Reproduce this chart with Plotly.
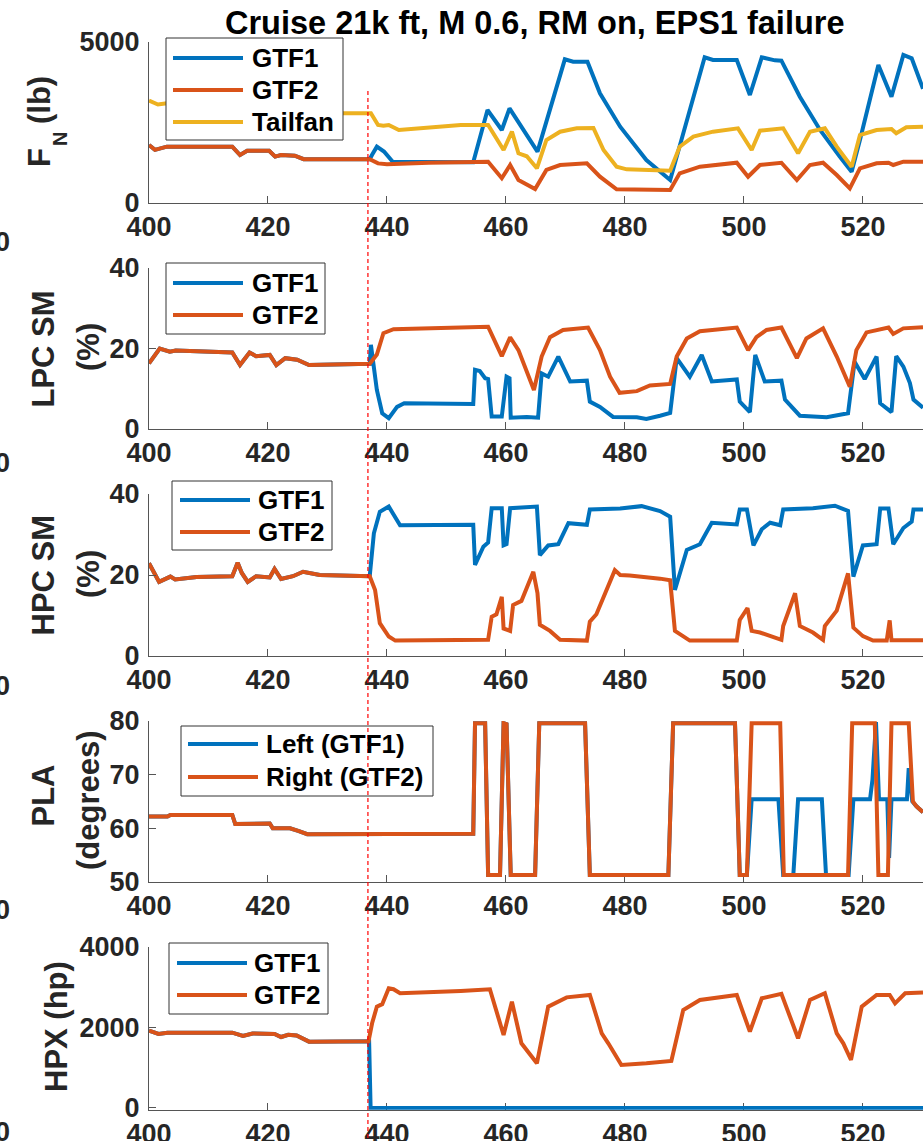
import plotly.graph_objects as go

# ------------------------------------------------------------------ data
t_start, t_end = 400, 530.1
failure_time = 436.8
x_ticks = [400, 420, 440, 460, 480, 500, 520]
title_text = "Cruise 21k ft, M 0.6, RM on, EPS1 failure"

# Panel 1 : net thrust F_N (lb)
fn_gtf1_t = [400, 401, 403, 414, 415.3, 416.5, 420.2, 421.2, 422.2, 424.5, 426, 437.1, 437.5, 438.3, 439.5,
             441, 447, 454.5, 456.9, 459.3, 460.6, 465.3, 469.9, 471.3, 473.7, 475.8, 479.2, 483.6, 487.6,
             489.2, 493.4, 494.8, 498.8, 501, 503, 505.2, 506.3, 509.4, 512.8, 516.1, 518.1, 519.5, 522.6,
             524.8, 526.8, 528.2, 530.1]
fn_gtf1 = [1800, 1650, 1750, 1750, 1490, 1620, 1620, 1440, 1490, 1470, 1360, 1360, 1500, 1750, 1600,
           1270, 1270, 1263, 2888, 2267, 2940, 1594, 4462, 4388, 4388, 3406, 2370, 1335, 714,
           1749, 4524, 4441, 4441, 3354, 4524, 4430, 4420, 3302, 2267, 1439, 972, 1957, 4286,
           3302, 4596, 4492, 3550]
fn_gtf2_t = [400, 401, 403, 414, 415.3, 416.5, 420.2, 421.2, 422.2, 424.5, 426, 437.1, 438.5, 440, 447, 455,
             457, 459.3, 460.7, 462.1, 464.9, 466.8, 469.1, 473.6, 475.8, 478.6, 487.6, 489.2, 492.6, 498.8,
             500.7, 502.7, 506.3, 508.9, 511.1, 513.3, 515.6, 517.8, 519.5, 522.3, 524.3, 525.1, 526.8, 530.1]
fn_gtf2 = [1800, 1650, 1750, 1750, 1490, 1620, 1620, 1440, 1490, 1470, 1360, 1360, 1230, 1200, 1250, 1280,
           1280, 770, 1180, 714, 435, 1025, 1180, 1232, 817, 425, 404, 921, 1127, 1252,
           817, 1180, 1250, 714, 1180, 1250, 870, 456, 1077, 1232, 1250, 1180, 1283, 1283]
fn_tail_t = [400, 401.5, 403, 414, 415.3, 420.2, 421.2, 426, 437.3, 438.5, 439.4, 440.3, 442, 445.6, 452.4,
             457, 459.6, 461, 462.1, 463.5, 465.2, 466.8, 469.1, 471.9, 474.7, 476.4, 478.6, 480.3, 487.6,
             489.2, 491.5, 494.8, 499, 501.3, 502.7, 506.6, 509.1, 511.1, 513.6, 515.6, 518.1, 519.5, 522.3,
             524.8, 525.6, 527.3, 530.1]
fn_tail = [3180, 3060, 3100, 3080, 2950, 2950, 2880, 2790, 2790, 2422, 2400, 2422, 2267, 2330, 2422,
           2422, 1646, 2215, 1543, 1450, 1077, 1957, 2215, 2319, 2330, 1646, 1127, 1046, 1004,
           1749, 2060, 2215, 2319, 1646, 2246, 2319, 1543, 2215, 2319, 1749, 1127, 2112, 2267,
           2300, 2164, 2350, 2370]

# Panel 2 : LPC stall margin (%)
lpc_gtf1_t = [400, 401.8, 403.5, 404.5, 414, 415.3, 416.9, 418, 420.3, 421.4, 422.9, 424.9, 426.9, 437.1,
              437.3, 438.3, 439.2, 440.3, 441.7, 442.9, 454.5, 454.8, 455.6, 456.5, 457, 457.6, 459.3, 460.1,
              460.6, 460.8, 463.5, 465.4, 466, 467.1, 468.8, 470.8, 473.6, 474.1, 475.8, 478, 482, 483.6,
              485.9, 487.6, 488.7, 490.9, 492.9, 494.6, 498.8, 499.3, 501, 501.9, 503.5, 506.3, 506.9, 509.4,
              513.9, 517.5, 518.6, 520.3, 522.3, 522.9, 524.8, 525.6, 526.8, 527.9, 528.5, 530.1]
lpc_gtf1 = [16.3, 20.0, 19.2, 19.5, 19.0, 15.9, 19.0, 18.1, 18.4, 15.9, 17.6, 17.2, 15.9, 16.2,
            20.9, 9.7, 3.9, 2.7, 5.5, 6.4, 6.2, 14.7, 14.4, 12.6, 12.4, 3.1, 3.1, 13.0,
            12.6, 2.8, 3.0, 2.8, 13.8, 13.0, 18.0, 11.8, 12.0, 6.8, 5.5, 3.0, 2.9, 2.5,
            3.3, 4.0, 17.6, 13.0, 18.4, 11.8, 12.3, 6.8, 4.2, 18.4, 11.8, 12.0, 7.3, 3.3,
            2.9, 3.9, 16.7, 12.4, 18.0, 6.4, 4.2, 18.1, 15.5, 11.4, 7.3, 5.3]
lpc_gtf2_t = [400, 401.8, 403.5, 404.5, 414, 415.3, 416.9, 418, 420.3, 421.4, 422.9, 424.9, 426.9, 437.1,
              438.3, 439.4, 441.1, 452.4, 457, 459.3, 460.7, 462.1, 464.7, 466, 467.4, 469.6, 473.8, 475.8,
              477.5, 479.1, 482, 484.2, 487.6, 488.7, 490.4, 492.6, 498.8, 500.7, 502.1, 503.8, 506.3, 508.9,
              510.5, 513.3, 515.6, 517.8, 518.9, 520.6, 524.3, 525.1, 526.8, 530.1]
lpc_gtf2 = [16.3, 20.0, 19.2, 19.5, 19.0, 15.9, 19.0, 18.1, 18.4, 15.9, 17.6, 17.2, 15.9, 16.2,
            18.5, 23.8, 24.8, 25.1, 25.4, 18.1, 22.8, 19.6, 9.7, 18.0, 22.8, 24.6, 25.2, 19.6,
            13.0, 9.0, 9.4, 10.8, 11.2, 18.0, 22.5, 24.3, 25.2, 19.6, 22.8, 24.6, 25.2, 17.6,
            22.5, 25.0, 18.0, 10.5, 19.6, 24.0, 25.2, 23.6, 25.0, 25.3]

# Panel 3 : HPC stall margin (%)
hpc_gtf1_t = [400, 401.7, 403.6, 404.4, 408, 414, 414.9, 415.6, 416.6, 418, 420.3, 421.1, 422.2, 424.2,
              425.9, 428.7, 437.1, 437.8, 438.8, 440.3, 442.2, 454.5, 454.8, 456.2, 457, 457.6, 459.3, 459.6,
              460.1, 460.7, 465.2, 465.7, 467.1, 468.8, 470.5, 473.6, 474.1, 479.2, 482.8, 485.9, 487.6, 488.4,
              490.4, 492.6, 494.6, 498.8, 499.3, 500.5, 501.6, 503, 504.4, 506.1, 506.6, 511.6, 515.3, 517.5,
              518.4, 520, 522.3, 522.9, 524.3, 525.1, 526.8, 528.2, 528.5, 530.1]
hpc_gtf1 = [22.9, 18.3, 19.6, 18.9, 19.5, 19.7, 23.0, 20.5, 18.3, 19.7, 19.4, 21.5, 19.0, 19.7,
            20.8, 20.0, 19.7, 30.3, 35.6, 36.9, 32.3, 32.4, 22.5, 27.0, 28.0, 36.5, 36.5, 27.3,
            27.6, 36.5, 36.9, 24.9, 27.3, 27.6, 32.8, 32.4, 36.2, 36.4, 37.0, 35.8, 34.4, 16.3,
            26.2, 27.6, 32.9, 32.5, 36.2, 36.2, 27.3, 31.3, 32.9, 32.3, 36.2, 36.5, 37.1, 35.8,
            19.6, 27.3, 27.6, 36.4, 36.4, 27.6, 31.6, 33.2, 36.2, 36.2]
hpc_gtf2_t = [400, 401.7, 403.6, 404.4, 408, 414, 414.9, 415.6, 416.6, 418, 420.3, 421.1, 422.2, 424.2,
              425.9, 428.7, 437.1, 438, 438.8, 440.3, 441.4, 452.4, 457, 457.6, 458.4, 459.3, 459.6, 460.7,
              461.2, 462.6, 464.6, 465.3, 465.7, 467.4, 469.1, 473.6, 474.1, 475.2, 478.3, 479.2, 480.8, 485.9,
              487.6, 488.4, 490.9, 498.8, 499.3, 500.6, 501.3, 502.7, 506.3, 506.6, 508.6, 509.4, 511.6, 513.3,
              513.6, 515.6, 517.5, 518.4, 520, 521.7, 524, 524.5, 524.8, 530.1]
hpc_gtf2 = [22.9, 18.3, 19.6, 18.9, 19.5, 19.7, 23.0, 20.5, 18.3, 19.7, 19.4, 21.5, 19.0, 19.7,
            20.8, 20.0, 19.7, 16.3, 8.1, 4.8, 3.8, 4.0, 4.0, 9.7, 10.3, 14.6, 6.8, 6.2,
            12.6, 13.6, 20.8, 15.5, 7.7, 6.2, 4.0, 3.8, 8.5, 10.3, 21.2, 20.0, 19.9, 19.1,
            18.7, 6.2, 3.8, 3.8, 8.9, 11.8, 6.2, 5.8, 4.0, 7.4, 15.5, 7.4, 5.8, 4.0,
            7.4, 11.2, 20.4, 7.0, 4.9, 3.8, 3.8, 8.8, 3.9, 3.9]

# Panel 4 : power lever angle (degrees)
pla_left_t = [400, 403.1, 403.6, 414, 414.5, 420.3, 420.8, 423.7, 425.2, 426.6, 454.5, 454.8, 456.5, 457,
              459, 459.6, 460.1, 460.8, 464.9, 465.6, 473.3, 474.1, 487.3, 488.1, 498.5, 499.3, 500.5,
              501.3, 505.8, 506.6, 508.3, 509.1, 513.1, 513.8, 517.6, 518.4, 521.2, 521.6, 522.2, 522.7,
              524.1, 524.4, 524.8, 527.4, 527.7, 528.3, 529, 530.1]
pla_left = [62.2, 62.2, 62.5, 62.5, 60.8, 60.9, 60.0, 60.0, 59.5, 58.9, 59.0, 79.6, 79.6, 51.3,
            51.3, 79.6, 79.4, 51.3, 51.3, 79.6, 79.6, 51.3, 51.3, 79.6, 79.6, 51.3, 51.3,
            65.4, 65.4, 51.3, 51.3, 65.4, 65.4, 51.3, 51.3, 65.4, 65.4, 69.0, 79.8, 65.4,
            65.4, 54.5, 65.4, 65.4, 71.2, 65.0, 64.1, 63.0]
pla_right_t = [400, 403.1, 403.6, 414, 414.5, 420.3, 420.8, 423.7, 425.2, 426.6, 454.5, 454.8, 456.5, 457,
               459, 459.6, 460.1, 460.8, 464.9, 465.6, 473.3, 474.1, 487.3, 488.1, 498.5, 499.3, 500.5,
               501.3, 506.1, 506.7, 517.5, 518.2, 522, 522.6, 524.2, 524.8, 527.7, 528.4, 529, 530.1]
pla_right = [62.2, 62.2, 62.5, 62.5, 60.8, 60.9, 60.0, 60.0, 59.5, 58.9, 59.0, 79.6, 79.6, 51.3,
             51.3, 79.6, 79.4, 51.3, 51.3, 79.6, 79.6, 51.3, 51.3, 79.6, 79.6, 51.3, 51.3,
             79.6, 79.6, 51.3, 51.3, 79.6, 79.6, 51.3, 51.3, 79.6, 79.6, 65.0, 64.1, 63.0]

# Panel 5 : HP extraction (hp)
hpx_gtf1_t = [400, 401.6, 403.1, 414, 415.8, 417.4, 421.1, 422.2, 423.4, 424.8, 426.9, 437.0, 437.25, 530.1]
hpx_gtf1 = [1921, 1839, 1871, 1871, 1789, 1850, 1839, 1764, 1820, 1800, 1648, 1656, 0, 0]
hpx_gtf2_t = [400, 401.6, 403.1, 414, 415.8, 417.4, 421.1, 422.2, 423.4, 424.8, 426.9, 436.9, 437.5, 438.3,
              439.2, 440.3, 441.1, 442.2, 452.4, 457.3, 459.6, 461, 462.6, 464, 465.2, 467.1, 470.2, 474.1,
              476.1, 477.2, 479.4, 483.6, 487.8, 489.8, 492.6, 498.8, 501, 503, 506.3, 509.1, 511.1, 513.6,
              515.6, 516.7, 518, 519.8, 522.3, 524.5, 525.4, 527.1, 530.1]
hpx_gtf2 = [1921, 1839, 1871, 1871, 1789, 1850, 1839, 1764, 1820, 1800, 1648, 1656, 2104, 2517,
            2580, 2974, 2950, 2850, 2908, 2949, 1814, 2642, 1607, 1359, 1110, 2517, 2749, 2808,
            1855, 1607, 1068, 1110, 1168, 2435, 2684, 2808, 1896, 2725, 2835, 1731, 2684, 2850,
            1855, 1607, 1193, 2517, 2808, 2808, 2600, 2850, 2870]

series_names = [["GTF1", "GTF2", "Tailfan"], ["GTF1", "GTF2"], ["GTF1", "GTF2"],
                ["Left (GTF1)", "Right (GTF2)"], ["GTF1", "GTF2"]]
y_ranges = [[0, 5000], [0, 40], [0, 40], [50, 80], [-45, 4000]]
y_ticks = [[0, 5000], [0, 20, 40], [0, 20, 40], [50, 60, 70, 80], [0, 2000, 4000]]

# ------------------------------------------------------------------ styling / layout
BLUE, ORANGE, YELLOW = "#0072BD", "#D95319", "#EDB120"
AXC = "#555555"
TXT = "#262626"
FONT = "Liberation Sans, Arial, sans-serif"
W, H, ML = 923, 1141, 149
LW = 4


def px2x(px):
    return (px - ML) / (W - ML)


def py2y(py):
    return 1 - py / H


panel_px = [(203, 42), (429, 268), (656, 494), (882, 721), (1109.8, 947)]

panels = [
    [(fn_gtf1_t, fn_gtf1, BLUE), (fn_gtf2_t, fn_gtf2, ORANGE), (fn_tail_t, fn_tail, YELLOW)],
    [(lpc_gtf1_t, lpc_gtf1, BLUE), (lpc_gtf2_t, lpc_gtf2, ORANGE)],
    [(hpc_gtf1_t, hpc_gtf1, BLUE), (hpc_gtf2_t, hpc_gtf2, ORANGE)],
    [(pla_left_t, pla_left, BLUE), (pla_right_t, pla_right, ORANGE)],
    [(hpx_gtf1_t, hpx_gtf1, BLUE), (hpx_gtf2_t, hpx_gtf2, ORANGE)],
]

fig = go.Figure()
for i, series in enumerate(panels):
    sfx = "" if i == 0 else str(i + 1)
    for (t, v, c), name in zip(series, series_names[i]):
        fig.add_trace(go.Scatter(x=t, y=v, mode="lines", name=name,
                                 line=dict(color=c, width=LW),
                                 xaxis="x" + sfx, yaxis="y" + sfx,
                                 showlegend=False, hoverinfo="skip"))

tickfont = dict(family=FONT, size=27, color=TXT, weight="bold")
layout = dict(width=W, height=H, margin=dict(l=ML, r=0, t=0, b=0, pad=0),
              template="none", paper_bgcolor="white", plot_bgcolor="rgba(0,0,0,0)",
              showlegend=False)
for i in range(5):
    sfx = "" if i == 0 else str(i + 1)
    bot, top = panel_px[i]
    layout["xaxis" + sfx] = dict(domain=[0, 1], range=[t_start, t_end], anchor="y" + sfx,
                                 tickvals=x_ticks, ticks="inside", ticklen=7, tickwidth=1,
                                 tickcolor=AXC, showline=True, linecolor=AXC, linewidth=1,
                                 showgrid=False, zeroline=False, tickfont=tickfont,
                                 ticklabelstandoff=0, automargin=False, fixedrange=True,
                                 layer="below traces")
    layout["yaxis" + sfx] = dict(domain=[py2y(bot), py2y(top)], range=y_ranges[i], anchor="x" + sfx,
                                 tickvals=y_ticks[i], ticks="inside", ticklen=7, tickwidth=1,
                                 tickcolor=AXC, showline=True, linecolor=AXC, linewidth=1,
                                 showgrid=False, zeroline=False, tickfont=tickfont,
                                 ticklabelstandoff=3, automargin=False, fixedrange=True)
fig.update_layout(**layout)

shapes = []
annotations = []

# custom legends (box, sample lines, labels)
legend_geom = [
    dict(box=(166, 38, 343, 140), line_x=(173, 243), text_x=250, rows=[58, 90, 122]),
    dict(box=(166, 263, 325, 334), line_x=(173, 243), text_x=250, rows=[283, 315]),
    dict(box=(172, 481, 332, 550), line_x=(180, 250), text_x=256, rows=[500, 532]),
    dict(box=(181, 726, 433, 796), line_x=(188, 258), text_x=264, rows=[744, 777]),
    dict(box=(169, 943, 328, 1014), line_x=(177, 247), text_x=252, rows=[963, 995]),
]
for i, g in enumerate(legend_geom):
    x0, y0, x1, y1 = g["box"]
    shapes.append(dict(type="rect", xref="paper", yref="paper", x0=px2x(x0), x1=px2x(x1),
                       y0=py2y(y1), y1=py2y(y0), fillcolor="white",
                       line=dict(color="#333333", width=1), layer="above"))
    for (t, v, c), name, ry in zip(panels[i], series_names[i], g["rows"]):
        shapes.append(dict(type="line", xref="paper", yref="paper",
                           x0=px2x(g["line_x"][0]), x1=px2x(g["line_x"][1]),
                           y0=py2y(ry), y1=py2y(ry), line=dict(color=c, width=LW), layer="above"))
        annotations.append(dict(text=name, xref="paper", yref="paper", x=px2x(g["text_x"]),
                                y=py2y(ry), xanchor="left", yanchor="middle", showarrow=False,
                                font=dict(family=FONT, size=26, color="black", weight="bold")))

# failure-time marker
shapes.append(dict(type="line", xref="x", yref="paper", x0=failure_time, x1=failure_time,
                   y0=py2y(1145), y1=py2y(90), line=dict(color="#FF0000", width=1.2, dash="4px,3px"),
                   layer="above"))

# title
annotations.append(dict(text=title_text, xref="paper", yref="paper", x=px2x(534), y=py2y(23),
                        xanchor="center", yanchor="middle", showarrow=False,
                        font=dict(family=FONT, size=32.5, color="black", weight="bold")))

# y-axis titles (rotated)
ytitles = [
    ("F", 39, 158, 31), ("N", 60, 139, 20), ("(lb)", 39, 100, 31),
    ("LPC SM", 42.5, 349, 31), ("(%)", 88, 347, 31),
    ("HPC SM", 42.5, 575, 31), ("(%)", 88, 574, 31),
    ("PLA", 42.5, 796, 31), ("(degrees)", 88, 800, 31),
    ("HPX (hp)", 56, 1027, 31),
]
for txt, cx, cy, fs in ytitles:
    annotations.append(dict(text=txt, xref="paper", yref="paper", x=px2x(cx), y=py2y(cy),
                            xanchor="center", yanchor="middle", textangle=-90, showarrow=False,
                            font=dict(family=FONT, size=fs, color=TXT, weight="bold")))

# clipped tick-label fragments at the left edge
for cy in [242, 463, 686, 910, 1132]:
    annotations.append(dict(text="0", xref="paper", yref="paper", x=px2x(12), y=py2y(cy),
                            xanchor="right", yanchor="middle", showarrow=False,
                            font=dict(family=FONT, size=27, color=TXT, weight="bold")))

fig.update_layout(shapes=shapes, annotations=annotations)
fig.write_html("out.html", config={"displayModeBar": False},
               post_script="document.body.style.margin='0';")
